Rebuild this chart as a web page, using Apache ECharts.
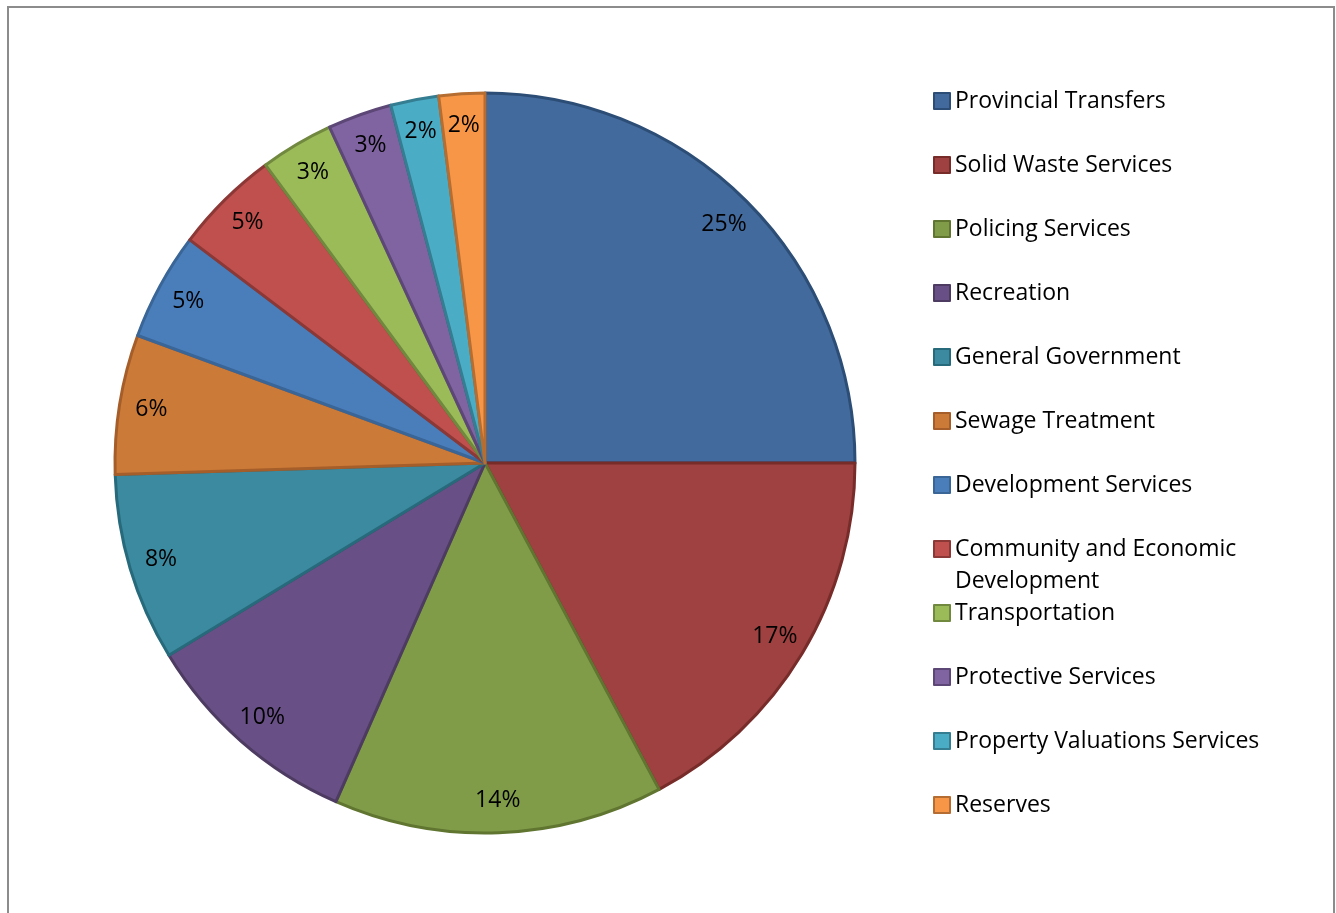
<!DOCTYPE html>
<html>
<head>
<meta charset="utf-8">
<script src="https://cdn.jsdelivr.net/npm/echarts@6/dist/echarts.min.js"></script>
<style>
html, body { margin: 0; padding: 0; background: #fff; }
#chart { width: 1336px; height: 913px; }
</style>
</head>
<body>
<div id="chart"></div>
<script>
// budget shares (percent)
var names = ['Provincial Transfers', 'Solid Waste Services', 'Policing Services', 'Recreation',
    'General Government', 'Sewage Treatment', 'Development Services', 'Community and Economic Development',
    'Transportation', 'Protective Services', 'Property Valuations Services', 'Reserves'];
var values = [25, 17.2, 14.4, 9.7, 8.2, 6.1, 4.7, 4.6, 3.2, 2.8, 2.1, 2.0];
var fills = ['#426A9C', '#9E4140', '#809C49', '#685086', '#3C8AA0', '#CC7A38',
    '#4A7EBB', '#C0504D', '#9BBB59', '#8064A2', '#4BACC6', '#F79646'];
var edges = ['#2C4D75', '#772C2A', '#5F7530', '#4D3B62', '#276A7C', '#A55E2A',
    '#3A6597', '#8C3836', '#71893F', '#5C4776', '#357D91', '#B66D31'];

var myChart = echarts.init(document.getElementById('chart'));

var pieData = names.map(function (n, i) {
    return {
        name: n,
        value: values[i],
        itemStyle: { color: fills[i], borderColor: edges[i], borderWidth: 3 }
    };
});
var labelData = names.map(function (n, i) {
    return { name: n, value: values[i] };
});

var legendText = {
    color: '#000',
    fontFamily: 'Open Sans',
    fontSize: 23,
    lineHeight: 32
};
function legendBlock(items, top, fmt) {
    var o = {
        orient: 'vertical',
        left: 933,
        top: top,
        padding: 0,
        itemWidth: 16,
        itemHeight: 16,
        itemGap: 32,
        icon: 'rect',
        selectedMode: false,
        textStyle: legendText,
        data: items
    };
    if (fmt) { o.formatter = fmt; }
    return o;
}

var option = {
    animation: false,
    graphic: [{
        type: 'rect',
        shape: { x: 8, y: 7, width: 1326, height: 930 },
        style: { fill: 'none', stroke: '#8c8c8c', lineWidth: 2 },
        silent: true
    }],
    legend: [
        legendBlock(names.slice(0, 7), 85),
        // empty first line keeps the icon level with "Community and Economic"
        legendBlock([names[7]], 501, function () { return ' \nCommunity and Economic\nDevelopment'; }),
        legendBlock(names.slice(8), 597)
    ],
    series: [
        {
            type: 'pie',
            center: [485, 463],
            radius: 370,
            startAngle: 90,
            clockwise: true,
            label: { show: false },
            labelLine: { show: false },
            emphasis: { disabled: true },
            data: pieData
        },
        {
            // transparent ring that carries the percent labels near the rim
            type: 'pie',
            center: [485, 463],
            radius: [300, 370],
            startAngle: 90,
            clockwise: true,
            silent: true,
            itemStyle: { color: 'rgba(0,0,0,0)', borderWidth: 0 },
            label: {
                show: true,
                position: 'inside',
                color: '#000',
                fontFamily: 'Open Sans',
                fontSize: 23,
                formatter: function (p) { return Math.round(p.percent) + '%'; }
            },
            labelLine: { show: false },
            emphasis: { disabled: true },
            data: labelData
        }
    ]
};
myChart.setOption(option);
</script>
</body>
</html>
